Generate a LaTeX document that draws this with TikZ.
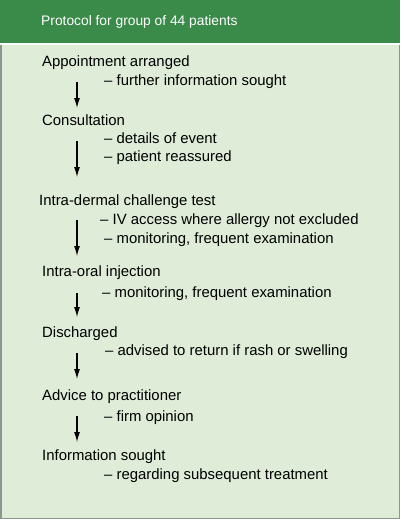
\documentclass[tikz,border=0pt]{standalone}
\usepackage{fontspec}
\setmainfont{Liberation Sans}
\usetikzlibrary{arrows.meta}
\definecolor{hdrgreen}{RGB}{58,138,74}
\definecolor{bodygreen}{RGB}{222,236,216}
\definecolor{edgegray}{RGB}{140,150,140}
\begin{document}
\begin{tikzpicture}[x=1pt,y=-1pt,
  txt/.style={anchor=mid west,inner sep=0pt,font=\fontsize{14.9}{16}\selectfont,text=black},
  hdr/.style={anchor=mid west,inner sep=0pt,font=\fontsize{13.8}{16}\selectfont,text=white},
  flow/.style={-{Latex[length=10pt,width=6pt]},line width=1.1pt,black}]
\useasboundingbox (0,0) rectangle (400,519);
\fill[bodygreen] (0,0) rectangle (400,519);
\fill[hdrgreen] (0,0) rectangle (400,43);
\fill[white!85!bodygreen] (0,43) rectangle (400,45);
\draw[edgegray,line width=1.5pt] (0.75,45) -- (0.75,518.25) -- (399.25,518.25) -- (399.25,45);
\node[hdr] (title) at (41,23) {Protocol for group of 44 patients};

\node[txt] (s1) at (42,64) {Appointment arranged};
\node[txt] (d1) at (104,83) {– further information sought};
\node[txt] (s2) at (42,123) {Consultation};
\node[txt] (d2a) at (104,141) {– details of event};
\node[txt] (d2b) at (104,159) {– patient reassured};
\node[txt] (s3) at (39,203) {Intra-dermal challenge test};
\node[txt] (d3a) at (100,222) {– IV access where allergy not excluded};
\node[txt] (d3b) at (104,241) {– monitoring, frequent examination};
\node[txt] (s4) at (42,274) {Intra-oral injection};
\node[txt] (d4) at (102,295) {– monitoring, frequent examination};
\node[txt] (s5) at (42,335) {Discharged};
\node[txt] (d5) at (105,353) {– advised to return if rash or swelling};
\node[txt] (s6) at (42,398) {Advice to practitioner};
\node[txt] (d6) at (104,419) {– firm opinion};
\node[txt] (s7) at (42,458) {Information sought};
\node[txt] (d7) at (104,477) {– regarding subsequent treatment};

\coordinate (a1s) at (77,82);  \coordinate (a1e) at (77,108);
\coordinate (a2s) at (77,141); \coordinate (a2e) at (77,177);
\coordinate (a3s) at (77,220); \coordinate (a3e) at (77,256);
\coordinate (a4s) at (77,293); \coordinate (a4e) at (77,317);
\coordinate (a5s) at (77,353); \coordinate (a5e) at (77,379);
\coordinate (a6s) at (77,416); \coordinate (a6e) at (77,442);
\draw[flow] (a1s) -- (a1e);
\draw[flow] (a2s) -- (a2e);
\draw[flow] (a3s) -- (a3e);
\draw[flow] (a4s) -- (a4e);
\draw[flow] (a5s) -- (a5e);
\draw[flow] (a6s) -- (a6e);
\end{tikzpicture}
\end{document}
